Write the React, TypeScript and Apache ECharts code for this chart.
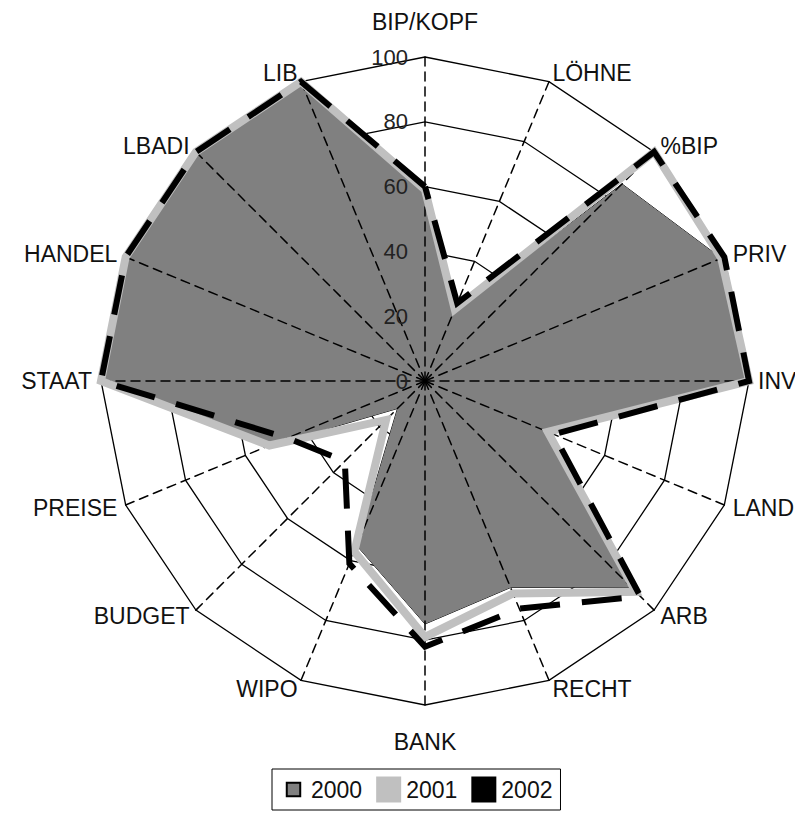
import React, { useEffect, useRef } from 'react';
import * as echarts from 'echarts';

// Indicators listed clockwise starting at the top, as in the reference
const indicatorNames = ['BIP/KOPF', 'LÖHNE', '%BIP', 'PRIV', 'INV', 'LAND', 'ARB', 'RECHT', 'BANK', 'WIPO', 'BUDGET', 'PREISE', 'STAAT', 'HANDEL', 'LBADI', 'LIB'];
const values2000 = [58, 23, 86, 99, 100, 40, 90, 69, 75, 55, 12, 53, 100, 100, 100, 100];
const values2001 = [59, 24, 100, 99, 100, 41, 92, 71, 79, 57, 17, 52, 100, 100, 100, 100];
const values2002 = [60, 26, 100, 100, 100, 43, 94, 76, 82, 61, 35, 46, 100, 100, 100, 100];
const seriesNames = ['2000', '2001', '2002'];
const axisMin = 0;
const axisMax = 100;
const tickStep = 20;

// ECharts lays radar indicators out counter-clockwise; reorder to run clockwise
function clockwise<T>(arr: T[]): T[] {
  return [arr[0], ...arr.slice(1).reverse()];
}

const FONT = '"Liberation Sans", Arial, sans-serif';

export default function App() {
  const ref = useRef<HTMLDivElement>(null);

  useEffect(() => {
    document.body.style.margin = '0';
    if (!ref.current) return;
    const chart = echarts.init(ref.current, undefined, { renderer: 'svg' });
    const indicator = clockwise(indicatorNames).map((name) => ({ name, min: axisMin, max: axisMax }));
    const center = [425, 381];
    const radius = 324;

    chart.setOption({
      animation: false,
      backgroundColor: '#fff',
      legend: {
        left: 272,
        top: 769,
        orient: 'horizontal',
        itemWidth: 25,
        itemHeight: 26,
        itemGap: 14,
        padding: [7, 8, 7, 8],
        borderColor: '#000',
        borderWidth: 1,
        backgroundColor: '#fff',
        selectedMode: false,
        textStyle: { fontSize: 23, color: '#111', fontFamily: FONT },
        data: [
          {
            name: seriesNames[0],
            icon: 'path://M0,0h0M6,6h14v14h-14zM26,26h0',
            itemStyle: { color: '#808080', borderColor: '#000', borderWidth: 2 },
          },
          { name: seriesNames[1], icon: 'rect', itemStyle: { color: '#c0c0c0', borderWidth: 0 } },
          { name: seriesNames[2], icon: 'rect', itemStyle: { color: '#000', borderWidth: 0 } },
        ],
      },
      radar: [
        {
          center,
          radius,
          startAngle: 90,
          splitNumber: (axisMax - axisMin) / tickStep,
          shape: 'polygon',
          indicator,
          nameGap: 9,
          z: 0,
          axisName: {
            color: '#111',
            fontSize: 23,
            fontFamily: FONT,
            formatter: (name: string) => {
              if (name === 'BIP/KOPF') return `{top|${name}}`;
              if (name === 'BANK') return `{bot|${name}}`;
              return name;
            },
            rich: {
              top: { padding: [0, 0, 15, 0], fontSize: 23, fontFamily: FONT, color: '#111' },
              bot: { padding: [16, 0, 0, 0], fontSize: 23, fontFamily: FONT, color: '#111' },
            },
          },
          axisLine: { show: false },
          axisTick: { show: false },
          axisLabel: { show: false },
          splitLine: { show: true, lineStyle: { color: '#000', width: 1.3 } },
          splitArea: { show: false },
        },
        {
          center,
          radius,
          startAngle: 90,
          splitNumber: (axisMax - axisMin) / tickStep,
          shape: 'polygon',
          indicator,
          z: 3,
          axisName: { show: false },
          axisLine: { show: true, lineStyle: { color: '#000', width: 1.5, type: [9, 6] } },
          axisTick: { show: false },
          axisLabel: { show: false },
          splitLine: { show: false },
          splitArea: { show: false },
        },
      ],
      polar: { center, radius },
      angleAxis: { show: false, type: 'value', min: 0, max: 360, startAngle: 90 },
      radiusAxis: {
        type: 'value',
        min: axisMin,
        max: axisMax,
        interval: tickStep,
        z: 5,
        axisLine: { show: false },
        axisTick: { show: false },
        splitLine: { show: false },
        axisLabel: { margin: 17, fontSize: 22, color: '#222', fontFamily: FONT },
      },
      series: [
        {
          type: 'radar',
          radarIndex: 0,
          z: 2,
          symbol: 'none',
          data: [
            {
              name: seriesNames[0],
              value: clockwise(values2000),
              itemStyle: { color: '#808080' },
              lineStyle: { color: '#000', width: 1 },
              areaStyle: { color: '#808080', opacity: 1 },
            },
          ],
        },
        {
          type: 'radar',
          radarIndex: 0,
          z: 4,
          symbol: 'none',
          data: [
            {
              name: seriesNames[1],
              value: clockwise(values2001),
              itemStyle: { color: '#c0c0c0' },
              lineStyle: { color: '#c0c0c0', width: 8, join: 'miter' },
            },
          ],
        },
        {
          type: 'radar',
          radarIndex: 0,
          z: 5,
          symbol: 'none',
          data: [
            {
              name: seriesNames[2],
              value: clockwise(values2002),
              itemStyle: { color: '#000' },
              lineStyle: { color: '#000', width: 6, type: [40, 22], cap: 'butt', join: 'miter' },
            },
          ],
        },
      ],
    });
    return () => chart.dispose();
  }, []);

  return <div ref={ref} style={{ width: 795, height: 821, position: 'absolute', left: 0, top: 0 }} />;
}
